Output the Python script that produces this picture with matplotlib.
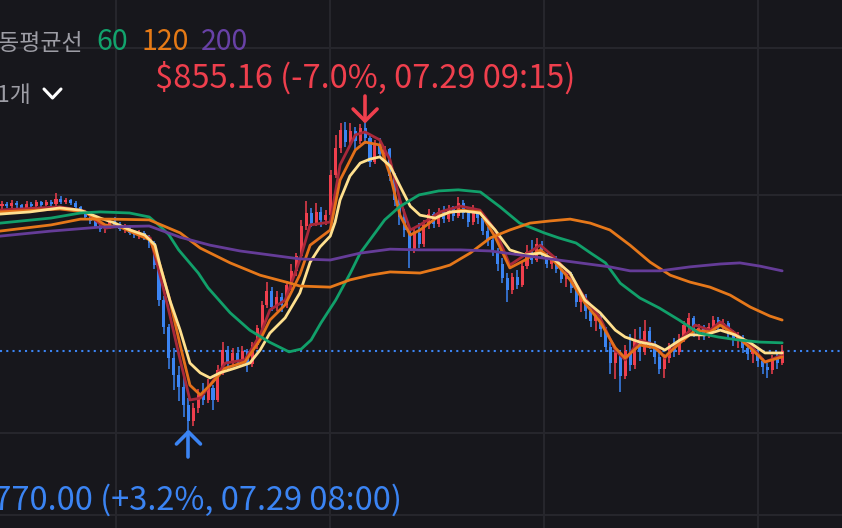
import matplotlib
matplotlib.use("Agg")
import matplotlib.pyplot as plt
from matplotlib.lines import Line2D
from matplotlib.transforms import IdentityTransform
import numpy as np

plt.rcParams["font.family"] = ["Noto Sans CJK KR", "DejaVu Sans"]

BG = "#17171c"
GRID = "#26262c"
UP = "#ef3f4d"
DOWN = "#3b84f3"

# candle data (price, one candle per slot)
opens = [
    831.8, 832.6, 831.9, 832.8, 832.1, 831.4, 832.5, 832.0, 832.9, 832.3,
    833.0, 832.4, 834.0, 833.1, 833.6, 832.8, 831.6, 830.2, 829.0, 827.8,
    826.4, 825.6, 826.2, 827.9, 826.8, 825.5, 826.1, 824.6, 823.9, 824.5,
    823.2, 821.6, 815.5, 806.0, 798.5, 790.0, 785.3, 782.0, 776.8, 772.4,
    776.2, 779.8, 778.4, 781.5, 778.2, 786.5, 792.0, 788.6, 791.4, 789.0,
    791.8, 788.2, 793.6, 798.2, 804.5, 808.4, 804.0, 806.8, 804.5, 810.2,
    814.0, 818.2, 826.5, 830.0, 827.2, 830.4, 828.0, 829.5, 840.5, 848.0,
    853.0, 849.5, 852.6, 850.0, 853.4, 850.6, 844.2, 848.8, 846.2, 847.6,
    840.2, 833.6, 829.0, 825.2, 819.6, 824.5, 821.4, 826.8, 829.6, 827.0,
    830.2, 828.4, 831.0, 829.2, 832.8, 830.0, 827.4, 830.2, 828.6, 825.0,
    822.4, 819.2, 816.0, 812.0, 808.6, 812.4, 810.2, 815.4, 819.2, 817.0,
    821.4, 818.6, 816.0, 817.4, 814.6, 811.8, 813.0, 809.2, 805.4, 807.0,
    803.0, 800.2, 801.8, 797.8, 793.0, 788.4, 791.2, 785.0, 791.8, 788.0,
    794.6, 791.6, 797.4, 793.6, 790.2, 786.8, 789.8, 793.0, 791.6, 795.2,
    799.0, 801.0, 797.2, 798.2, 796.0, 798.6, 800.4, 798.4, 799.6, 796.6,
    794.8, 795.8, 792.8, 791.0, 792.2, 789.0, 787.4, 786.6, 789.6, 788.6,
]
closes = [
    832.6, 831.9, 832.8, 832.1, 831.4, 832.5, 832.0, 832.9, 832.3, 833.0,
    832.4, 834.0, 833.1, 833.6, 832.8, 831.6, 830.2, 829.0, 827.8, 826.4,
    825.6, 826.2, 827.9, 826.8, 825.5, 826.1, 824.6, 823.9, 824.5, 823.2,
    821.6, 815.5, 806.0, 798.5, 790.0, 785.3, 782.0, 776.8, 772.4, 776.2,
    779.8, 778.4, 781.5, 778.2, 786.5, 792.0, 788.6, 791.4, 789.0, 791.8,
    788.2, 793.6, 798.2, 804.5, 808.4, 804.0, 806.8, 804.5, 810.2, 814.0,
    818.2, 826.5, 830.0, 827.2, 830.4, 828.0, 829.5, 840.5, 848.0, 853.0,
    849.5, 852.6, 850.0, 853.4, 850.6, 844.2, 848.8, 846.2, 847.6, 840.2,
    833.6, 829.0, 825.2, 819.6, 824.5, 821.4, 826.8, 829.6, 827.0, 830.2,
    828.4, 831.0, 829.2, 832.8, 830.0, 827.4, 830.2, 828.6, 825.0, 822.4,
    819.2, 816.0, 812.0, 808.6, 812.4, 810.2, 815.4, 819.2, 817.0, 821.4,
    818.6, 816.0, 817.4, 814.6, 811.8, 813.0, 809.2, 805.4, 807.0, 803.0,
    800.2, 801.8, 797.8, 793.0, 788.4, 791.2, 785.0, 791.8, 788.0, 794.6,
    791.6, 797.4, 793.6, 790.2, 786.8, 789.8, 793.0, 791.6, 795.2, 799.0,
    801.0, 797.2, 798.2, 796.0, 798.6, 800.4, 798.4, 799.6, 796.6, 794.8,
    795.8, 792.8, 791.0, 792.2, 789.0, 787.4, 786.6, 789.6, 788.6, 791.8,
]
highs = [
    833.4, 833.1, 833.6, 833.2, 832.6, 833.3, 833.0, 833.5, 833.4, 833.6,
    833.5, 835.4, 834.6, 834.2, 834.0, 833.2, 832.0, 830.8, 829.6, 828.4,
    827.3, 827.0, 828.6, 828.8, 827.4, 826.9, 826.6, 825.2, 825.3, 825.0,
    823.8, 822.3, 816.2, 807.0, 799.4, 792.6, 787.8, 785.0, 778.8, 777.5,
    781.2, 783.0, 784.2, 782.4, 788.0, 794.4, 793.2, 792.8, 793.0, 793.3,
    792.5, 794.4, 799.0, 805.6, 811.0, 809.4, 808.5, 807.9, 811.2, 815.8,
    819.0, 828.0, 833.4, 831.5, 832.8, 831.6, 830.8, 842.0, 851.5, 855.0,
    855.1, 855.0, 853.8, 854.6, 855.16, 851.2, 850.2, 850.6, 848.6, 848.0,
    841.0, 835.2, 831.0, 826.4, 825.6, 827.2, 828.0, 831.0, 830.4, 831.4,
    831.8, 832.2, 832.0, 834.4, 833.6, 830.6, 832.2, 831.0, 829.4, 826.2,
    823.4, 820.2, 817.6, 813.4, 813.4, 814.2, 816.6, 821.2, 822.4, 823.0,
    822.2, 819.0, 818.4, 818.0, 815.8, 814.2, 813.6, 810.0, 808.4, 807.6,
    804.2, 803.0, 802.4, 798.6, 794.2, 793.0, 792.0, 793.4, 796.6, 797.8,
    798.4, 800.4, 798.6, 794.6, 792.2, 791.0, 794.0, 795.4, 796.6, 800.2,
    802.3, 801.6, 799.2, 799.0, 799.6, 801.6, 801.2, 800.8, 800.0, 797.6,
    797.0, 796.4, 793.6, 793.4, 792.8, 790.0, 788.6, 790.6, 791.4, 793.5,
]
lows = [
    831.2, 831.3, 831.5, 831.4, 830.6, 831.0, 831.2, 831.6, 831.7, 831.9,
    831.8, 832.0, 832.6, 832.5, 832.2, 830.8, 829.6, 828.3, 827.0, 825.8,
    824.8, 824.4, 825.7, 826.2, 824.9, 824.6, 823.9, 823.0, 822.9, 822.4,
    820.4, 814.6, 804.4, 796.6, 786.8, 781.0, 778.0, 773.5, 770.0, 771.2,
    774.6, 777.0, 777.6, 775.6, 777.8, 785.2, 787.0, 787.6, 787.9, 788.2,
    786.0, 787.5, 792.5, 797.3, 803.6, 802.8, 803.0, 802.7, 803.8, 808.8,
    812.5, 817.4, 825.4, 826.0, 826.5, 826.2, 826.8, 828.6, 839.6, 846.6,
    848.2, 848.6, 847.8, 849.2, 849.0, 842.6, 843.5, 845.4, 844.6, 838.8,
    832.0, 826.8, 823.4, 814.8, 819.0, 820.4, 820.6, 825.6, 825.8, 826.0,
    827.2, 827.6, 827.8, 828.6, 828.4, 826.2, 826.8, 827.0, 823.8, 821.0,
    818.0, 814.0, 810.6, 805.4, 807.6, 809.0, 809.6, 814.6, 816.0, 816.4,
    817.4, 814.8, 814.4, 813.4, 810.6, 809.6, 807.8, 804.0, 802.6, 800.8,
    798.6, 797.4, 795.8, 791.6, 785.6, 784.0, 780.5, 784.2, 786.2, 787.0,
    789.0, 790.8, 792.4, 788.2, 785.6, 784.4, 788.6, 790.2, 790.8, 794.4,
    797.6, 795.6, 795.0, 794.8, 795.4, 797.6, 797.0, 797.2, 795.4, 793.2,
    792.6, 791.4, 789.4, 788.6, 787.4, 785.6, 784.4, 785.4, 787.0, 788.0,
]

# moving averages, read at sample points (candle slot, price)
ma5_x = [-0.4, 11.8, 16.9, 21.0, 24.1, 30.2, 32.2, 34.2, 36.3, 38.3, 40.4, 42.4, 45.5, 49.5,
         52.6, 54.6, 57.7, 60.7, 62.8, 66.9, 68.9, 72.0, 74.0, 77.0, 79.1, 81.1, 83.2, 85.2,
         89.3, 93.4, 97.4, 100.5, 103.5, 106.6, 109.7, 112.7, 115.8, 118.8, 121.9, 125.0,
         127.0, 130.0, 133.1, 135.1, 138.2, 141.3, 144.3, 146.4, 149.4, 152.5, 155.5, 159.0]
ma5_y = [830.8, 831.7, 830.5, 825.8, 826.4, 823.1, 812.9, 801.8, 789.4, 778.3, 778.8, 782.4,
         788.5, 789.4, 796.3, 803.2, 805.9, 817.0, 826.7, 827.5, 843.3, 851.6, 852.4, 850.2,
         844.6, 833.6, 825.3, 826.7, 830.3, 831.9, 830.8, 825.3, 815.6, 818.4, 821.1, 817.6,
         812.9, 806.5, 801.0, 792.1, 789.4, 794.9, 793.5, 789.9, 794.9, 799.0, 797.6, 799.9,
         796.8, 793.5, 788.8, 790.7]

ma10_x = [-0.4, 11.8, 16.9, 21.0, 24.1, 30.2, 32.2, 34.2, 36.3, 38.3, 40.4, 42.4, 45.5, 49.5,
          52.6, 54.6, 57.7, 60.7, 62.8, 66.9, 68.9, 72.0, 74.0, 77.0, 79.1, 81.1, 83.2, 85.2,
          89.3, 93.4, 97.4, 100.5, 103.5, 106.6, 109.7, 112.7, 115.8, 118.8, 121.9, 125.0,
          127.0, 130.0, 133.1, 135.1, 138.2, 141.3, 144.3, 146.4, 149.4, 152.5, 155.5, 159.0]
ma10_y = [830.3, 831.1, 830.3, 826.7, 826.1, 822.5, 815.6, 805.9, 793.5, 782.4, 779.7, 782.4,
          787.1, 788.8, 794.9, 800.4, 804.6, 812.9, 821.1, 825.3, 839.1, 847.4, 849.6, 848.8,
          840.5, 829.4, 823.9, 825.3, 829.4, 830.8, 830.3, 823.4, 814.8, 817.0, 819.8, 816.4,
          811.5, 805.1, 799.9, 792.7, 789.9, 793.5, 792.7, 790.2, 794.1, 797.6, 797.1, 799.0,
          796.3, 792.7, 788.8, 790.2]

ma20_x = [-0.4, 5.7, 11.8, 15.9, 20.0, 23.0, 26.1, 29.1, 31.2, 32.2, 34.2, 36.3, 38.3, 40.4,
          42.4, 44.4, 47.5, 50.5, 52.6, 54.6, 57.7, 60.7, 62.8, 64.8, 66.9, 67.9, 68.9, 70.9,
          73.0, 75.0, 77.0, 79.1, 81.1, 83.2, 85.2, 88.3, 91.3, 94.4, 97.4, 100.5, 103.5, 106.6,
          109.7, 112.7, 115.8, 118.8, 121.9, 125.0, 127.0, 130.0, 133.1, 135.1, 138.2, 140.2,
          143.3, 146.4, 149.4, 152.5, 155.5, 159.0]
ma20_y = [829.7, 830.3, 831.4, 830.8, 828.6, 827.2, 825.3, 823.9, 821.1, 815.6, 805.9, 797.6,
          788.5, 785.8, 784.4, 785.8, 787.1, 788.5, 792.1, 796.8, 801.0, 807.9, 816.4, 820.6,
          823.6, 827.5, 833.6, 840.2, 843.8, 844.9, 845.5, 843.0, 837.5, 831.9, 829.4, 828.6,
          830.3, 830.5, 830.0, 825.3, 819.8, 818.4, 818.9, 817.0, 813.4, 805.9, 802.4, 797.6,
          795.7, 794.3, 793.5, 792.1, 794.9, 796.3, 796.3, 797.6, 796.3, 794.1, 791.3, 791.3]

ma60_x = [-0.4, 10, 16, 20, 26, 30, 32, 34, 36, 40, 42, 46.5, 50.5, 54.5, 58.5, 61, 63, 65, 68,
          71, 73, 78, 81, 85, 89, 93, 97.5, 101.5, 105.5, 110.5, 113.5, 117, 120, 123, 126, 130,
          134, 138, 142, 146, 150, 154.5, 159]
ma60_y = [827.2, 828.6, 830.0, 830.3, 830.0, 828.9, 826.6, 824.0, 819.8, 813.4, 809.3, 802.4,
          797.6, 794.3, 791.6, 792.4, 794.9, 799.6, 805.9, 813.4, 818.9, 828.1, 831.7, 835.0,
          836.1, 836.4, 835.8, 831.7, 827.2, 824.5, 823.1, 821.7, 818.9, 816.2, 810.6, 806.5,
          803.7, 800.4, 796.8, 795.7, 794.9, 794.3, 794.1]

ma120_x = [-0.4, 10, 16, 22, 30, 36.3, 40.4, 46.5, 52.6, 58.7, 60.7, 66.9, 70.9, 75, 79.1,
           85.2, 89.3, 91.3, 93.4, 95.4, 99.5, 103.5, 107.6, 111.7, 115.8, 119.9, 123.9, 128,
           132.1, 136.2, 140.2, 144.3, 148.4, 152.5, 156.5, 159]
ma120_y = [825.0, 826.7, 828.3, 828.3, 828.1, 824.5, 820.3, 816.2, 812.8, 810.6, 809.8, 809.5,
           811.5, 812.8, 813.7, 813.4, 814.8, 815.6, 817.3, 818.9, 823.1, 825.3, 827.2, 827.8,
           828.3, 827.2, 825.3, 821.1, 816.4, 812.8, 810.9, 809.5, 807.3, 804.0, 801.5, 800.4]

ma200_x = [-0.4, 10, 20, 30, 36.3, 42.4, 48.5, 54.6, 60.7, 66.9, 73, 79.1, 85.2, 93.4, 99.5,
           105.6, 111.7, 117.8, 123.9, 128, 134.1, 140.2, 146.4, 150.4, 154.5, 159]
ma200_y = [823.6, 825.0, 826.1, 826.4, 823.3, 821.1, 819.5, 818.4, 817.3, 817.0, 818.9, 820.0,
           819.8, 819.8, 819.5, 818.4, 817.3, 816.2, 815.1, 814.0, 814.0, 815.1, 815.9, 816.2,
           815.3, 814.0]

# reference lines on the chart
grid_prices = [875.6, 835.0, 769.2, 746.5]
grid_slots = [23.2, 66.9, 110.5, 154.1]

hi_slot, lo_slot = 74, 38

fig = plt.figure(figsize=(8.42, 5.28), dpi=100)
fig.patch.set_facecolor(BG)
ax = fig.add_axes([0, 0, 1, 1])
ax.set_xlim(-0.41, 171.2)
ax.set_ylim(742.9, 888.89)
ax.axis("off")

for p in grid_prices:
    ax.axhline(p, color=GRID, lw=1.5, zorder=0)
for t in grid_slots:
    ax.axvline(t, color=GRID, lw=1.5, zorder=0)

o = np.array(opens)
c = np.array(closes)
h = np.array(highs)
l = np.array(lows)
x = np.arange(len(c))
cols = np.where(c >= o, UP, DOWN)
ax.vlines(x, l, h, colors=cols, lw=1.1, zorder=2)
ax.bar(x, np.maximum(np.abs(c - o), 0.2), bottom=np.minimum(o, c), width=0.62,
       color=cols, linewidth=0, zorder=2)

ma_style = dict(lw=2.0, zorder=3, solid_capstyle="round", solid_joinstyle="round")
ax.plot(ma5_x, ma5_y, color="#a8283a", **ma_style)
ax.plot(ma10_x, ma10_y, color="#e4701a", **ma_style)
ax.plot(ma20_x, ma20_y, color="#ffe08e", **ma_style)
ax.plot(ma60_x, ma60_y, color="#11a06a", **ma_style)
ax.plot(ma120_x, ma120_y, color="#e6781a", **ma_style)
ax.plot(ma200_x, ma200_y, color="#653c98", **ma_style)

# current price
ax.axhline(c[-1], color=DOWN, lw=1.5, ls=(0, (1, 2)), zorder=1)

# high / low markers
ax.annotate(f"${h[hi_slot]:.2f} (-7.0%, 07.29 09:15)", xy=(hi_slot, h[hi_slot]),
            xytext=(0, 24.5), textcoords="offset points", ha="center", va="baseline",
            color=UP, fontsize=23.5)
ax.annotate(f"${l[lo_slot]:.2f} (+3.2%, 07.29 08:00)", xy=(lo_slot, l[lo_slot]),
            xytext=(0, -57.5), textcoords="offset points", ha="center", va="baseline",
            color=DOWN, fontsize=23.5)

tx, ty = ax.transData.transform((hi_slot, h[hi_slot]))
ty += 1
for xs, ys in [([tx, tx], [ty, ty + 25]), ([tx - 12, tx, tx + 12], [ty + 12, ty, ty + 12])]:
    fig.add_artist(Line2D(xs, ys, color=UP, lw=2.6, solid_capstyle="round",
                          solid_joinstyle="round", transform=IdentityTransform()))
bx, by = ax.transData.transform((lo_slot, l[lo_slot]))
by -= 2
for xs, ys in [([bx, bx], [by, by - 25]), ([bx - 12, bx, bx + 12], [by - 12, by, by - 12])]:
    fig.add_artist(Line2D(xs, ys, color=DOWN, lw=2.6, solid_capstyle="round",
                          solid_joinstyle="round", transform=IdentityTransform()))


def px(xp, yp):
    return xp / 842, 1 - yp / 528


fig.text(*px(83, 50), "이동평균선", ha="right", va="baseline", color="#9d9da5", fontsize=16.5)
fig.text(*px(96, 50), "60", ha="left", va="baseline", color="#12a36c", fontsize=20.5)
fig.text(*px(142, 50), "120", ha="left", va="baseline", color="#e67a16", fontsize=20.5)
fig.text(*px(201, 50), "200", ha="left", va="baseline", color="#6841a6", fontsize=20.5)
fig.text(*px(31, 102), "1개", ha="right", va="baseline", color="#9d9da5", fontsize=16.5)
fig.add_artist(Line2D([44 / 842, 52.5 / 842, 61 / 842],
                      [1 - 89 / 528, 1 - 98 / 528, 1 - 89 / 528],
                      color="white", lw=2.2, solid_capstyle="round", solid_joinstyle="round"))

fig.savefig("out.png", dpi=100, facecolor=BG)
